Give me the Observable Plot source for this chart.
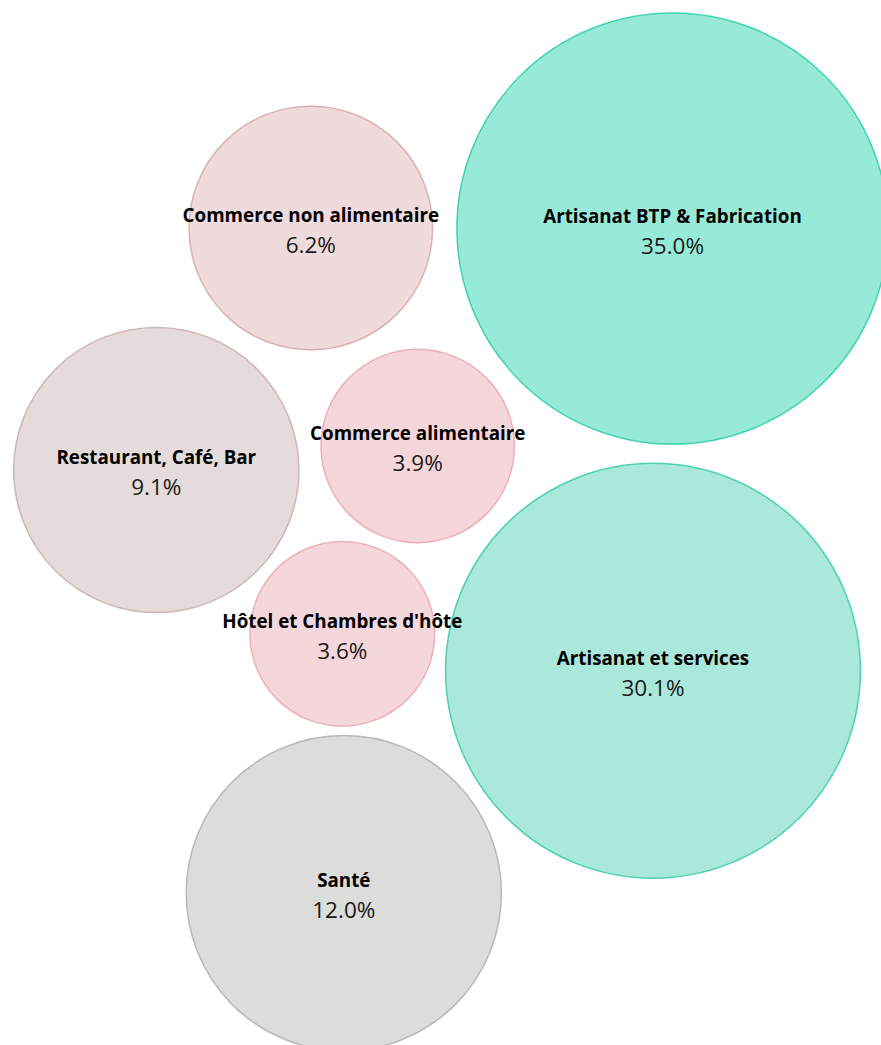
<!DOCTYPE html>
<html>
<head>
<meta charset="utf-8">
<script src="https://cdn.jsdelivr.net/npm/d3@7"></script>
<script src="https://cdn.jsdelivr.net/npm/@observablehq/plot@0.6"></script>
<style>
  html, body { margin: 0; padding: 0; background: #fff; overflow: hidden; }
  #chart svg { display: block; }
</style>
</head>
<body>
<div id="chart"></div>
<script>
// Categories and their shares (%)
const categories = [
  "Artisanat BTP & Fabrication",
  "Artisanat et services",
  "Santé",
  "Restaurant, Café, Bar",
  "Commerce non alimentaire",
  "Commerce alimentaire",
  "Hôtel et Chambres d'hôte"
];
const shares = [35.0, 30.1, 12.0, 9.1, 6.2, 3.9, 3.6];

// Bubble layout positions (layout units)
const layoutX = [672, 652.5, 343.3, 155.8, 310.3, 417.2, 341.8];
const layoutY = [228, 670.3, 892.7, 469.5, 227.5, 445.5, 633.3];

// Colour groups
const fills   = ["#98EAD8", "#A9E8DB", "#DCDCDA", "#E5DBDB", "#EFDADC", "#F5D7DB", "#F5D7DB"];
const strokes = ["#3FD4B2", "#4DD1B3", "#BBB8B3", "#CDB6B5", "#DDB1B4", "#EBB1B6", "#EBB1B6"];

const data = categories.map((name, i) => ({
  name, share: shares[i], x: layoutX[i], y: layoutY[i],
  fill: fills[i], stroke: strokes[i]
}));

const font = "'Segoe UI', 'Open Sans', 'Noto Sans', sans-serif";

const chart = Plot.plot({
  width: 881,
  height: 1045,
  margin: 0,
  x: {domain: [0, 881], axis: null},
  y: {domain: [0, 1045], axis: null, range: [0, 1045]},
  r: {type: "log", domain: [3.6, 35], range: [92.35, 215.6]},
  style: {fontFamily: font, background: "#fff", overflow: "hidden"},
  marks: [
    Plot.dot(data, {
      x: "x", y: "y", r: "share",
      fill: d => d.fill, stroke: d => d.stroke,
      strokeWidth: 1.5, sort: null
    }),
    Plot.text(data, {
      x: "x", y: "y", text: "name", dy: -12,
      fontSize: 18.8, fontWeight: "bold", fill: "#000",
      fontFamily: font
    }),
    Plot.text(data, {
      x: "x", y: "y", text: d => d.share.toFixed(1) + "%", dy: 18,
      fontSize: 22.5, fontWeight: 400, fill: "#1a1a1a", fontFamily: font
    })
  ]
});
document.getElementById("chart").appendChild(chart);
</script>
</body>
</html>
